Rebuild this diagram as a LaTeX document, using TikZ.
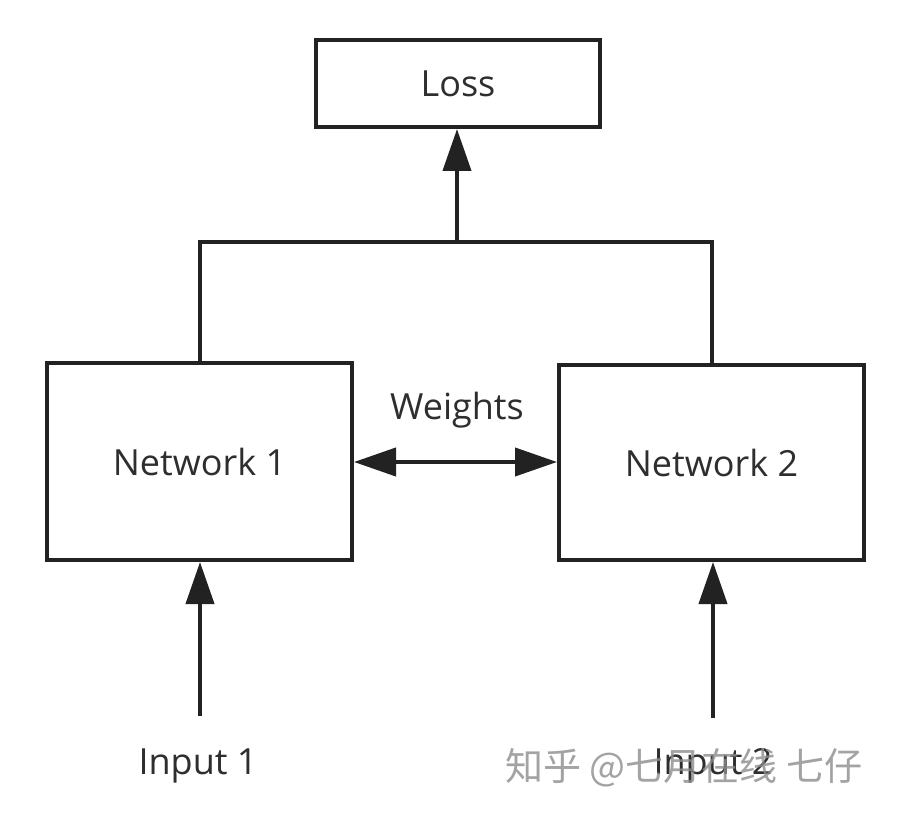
\documentclass[tikz,border=0pt]{standalone}
\usepackage{fontspec}
\setmainfont{Open Sans}
\newfontfamily\cjk{Noto Sans CJK SC}
\usetikzlibrary{arrows.meta}
\definecolor{ink}{HTML}{222222}
\definecolor{txt}{HTML}{2E2E2E}
\begin{document}
\begin{tikzpicture}[x=1pt,y=-1pt,
  box/.style={draw=ink,line width=4pt,fill=white,inner sep=0pt,text=txt,font=\fontsize{36}{42}\selectfont},
  lbl/.style={text=txt,inner sep=0pt,font=\fontsize{36}{42}\selectfont},
  conn/.style={draw=ink,line width=4pt},
  arr/.style={conn,-{Triangle[length=42pt,width=28pt]}},
  darr/.style={conn,{Triangle[length=42pt,width=28pt]}-{Triangle[length=42pt,width=28pt]}}]
\useasboundingbox[fill=white] (0,0) rectangle (897,821);
\node[box,minimum width=284pt,minimum height=87pt] (loss) at (458,83.5) {Loss};
\node[box,minimum width=305pt,minimum height=197pt] (net1) at (199.5,461.5) {Network 1};
\node[box,minimum width=305pt,minimum height=195pt] (net2) at (711.5,462.5) {Network 2};
\coordinate (j) at (457,242);
\coordinate (jl) at (200,242);
\coordinate (jr) at (712,242);
\coordinate (in1) at (200,716);
\coordinate (in2) at (713,718);
\draw[conn,line cap=rect] (net1.north -| jl) -- (jl) -- (jr) -- (net2.north -| jr);
\draw[arr] (j) -- (loss.south -| j);
\draw[darr] (net1.east |- 0,462) -- (net2.west |- 0,462);
\node[lbl] (w) at (457,410) {Weights};
\draw[arr] (in1) -- (net1.south -| in1);
\draw[arr] (in2) -- (net2.south -| in2);
\node[lbl] (i1) at (198,766) {Input 1};
\node[lbl] (i2) at (713,766) {Input 2};
\node[text=black!45,opacity=0.8,inner sep=0pt,font=\cjk\fontsize{38}{44}\selectfont] (wm) at (684,768) {知乎 @七月在线 七仔};
\end{tikzpicture}
\end{document}
